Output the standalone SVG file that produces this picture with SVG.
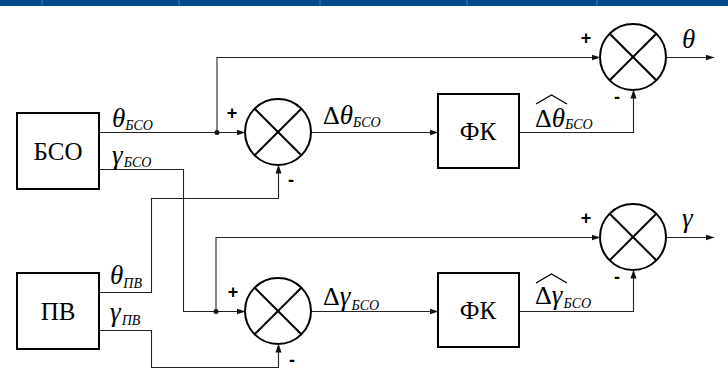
<svg xmlns="http://www.w3.org/2000/svg" width="728" height="389" viewBox="0 0 728 389">
<defs>
<marker id="arr" markerWidth="9" markerHeight="7" refX="8.5" refY="3.5" orient="auto" markerUnits="userSpaceOnUse">
<path d="M0,0.5 L9,3.5 L0,6.5 Z" fill="#111"/>
</marker>
<style>
.blk{fill:#fff;stroke:#000;stroke-width:2}
.sum circle{fill:#fff;stroke:#000;stroke-width:2}
.sum line{stroke:#000;stroke-width:2}
text{font-family:'Liberation Serif','Times New Roman','DejaVu Serif',serif;fill:#000}
.name{font-size:25px;text-anchor:middle}
.conn path{fill:none;stroke:#222;stroke-width:1.1}
.ar{marker-end:url(#arr)}
.g{font-style:italic;font-size:27px}
.d{font-style:normal;font-size:26px}
.s{font-style:italic;font-size:14px}
text.pm{font-family:'Liberation Sans','DejaVu Sans',sans-serif;font-weight:bold;font-size:18px;text-anchor:middle}
.hat{fill:none;stroke:#000;stroke-width:1.3}
</style>
</defs>
<rect x="0" y="0" width="728" height="6" fill="#004a8c"/>
<g stroke="#2f67a3" stroke-width="1.5">
<line x1="42" y1="0" x2="42" y2="6"/><line x1="179" y1="0" x2="179" y2="6"/><line x1="320" y1="0" x2="320" y2="6"/><line x1="467" y1="0" x2="467" y2="6"/><line x1="597" y1="0" x2="597" y2="6"/>
</g>
<g id="connectors" class="conn">
<path class="ar" d="M99,132.5 H245"/>
<path class="ar" d="M217,132.5 V57.5 H600"/>
<path class="ar" d="M99,169.5 H183.5 V311.5 H245"/>
<path class="ar" d="M216,311.5 V237.5 H600"/>
<path class="ar" d="M99,292.5 H151.5 V198.5 H278.5 V165"/>
<path class="ar" d="M99,330.5 H151.5 V367.5 H278.5 V344"/>
<path class="ar" d="M311,132.5 H438"/>
<path class="ar" d="M311,311.5 H438"/>
<path class="ar" d="M519,132.5 H633.5 V90"/>
<path class="ar" d="M519,311.5 H633.5 V270"/>
<path class="ar" d="M666,57.5 H714"/>
<path class="ar" d="M666,237.5 H714"/>
<circle cx="217" cy="132.5" r="2.5" fill="#111"/>
<circle cx="216" cy="311.5" r="2.5" fill="#111"/>
</g>
<g id="bso"><rect class="blk" x="17" y="113" width="82" height="76"/><text class="name" x="58" y="160">БСО</text></g>
<g id="pv"><rect class="blk" x="17" y="273" width="82" height="76"/><text class="name" x="58" y="320">ПВ</text></g>
<g id="fk1"><rect class="blk" x="438" y="94" width="81" height="74"/><text class="name" x="478" y="140">ФК</text></g>
<g id="fk2"><rect class="blk" x="438" y="273" width="81" height="74"/><text class="name" x="478" y="319">ФК</text></g>
<g id="sum1" class="sum"><circle cx="278" cy="132" r="33"/><line x1="254.7" y1="108.7" x2="301.3" y2="155.3"/><line x1="301.3" y1="108.7" x2="254.7" y2="155.3"/></g>
<g id="sum2" class="sum"><circle cx="278" cy="311" r="33"/><line x1="254.7" y1="287.7" x2="301.3" y2="334.3"/><line x1="301.3" y1="287.7" x2="254.7" y2="334.3"/></g>
<g id="sum3" class="sum"><circle cx="633" cy="57" r="33"/><line x1="609.7" y1="33.7" x2="656.3" y2="80.3"/><line x1="656.3" y1="33.7" x2="609.7" y2="80.3"/></g>
<g id="sum4" class="sum"><circle cx="633" cy="237" r="33"/><line x1="609.7" y1="213.7" x2="656.3" y2="260.3"/><line x1="656.3" y1="213.7" x2="609.7" y2="260.3"/></g>
<g id="signs">
<text class="pm" x="232" y="119">+</text><text class="pm" x="291" y="186">-</text>
<text class="pm" x="233" y="298">+</text><text class="pm" x="292" y="366">-</text>
<text class="pm" x="586" y="44">+</text><text class="pm" x="617" y="103">-</text>
<text class="pm" x="586" y="224">+</text><text class="pm" x="617" y="283">-</text>
</g>
<g id="labels">
<text x="112" y="127"><tspan class="g">θ</tspan><tspan class="s" dy="3">БСО</tspan></text>
<text x="112" y="164"><tspan class="g">γ</tspan><tspan class="s" dx="1" dy="3">БСО</tspan></text>
<text x="110" y="284"><tspan class="g">θ</tspan><tspan class="s" dy="4">ПВ</tspan></text>
<text x="110" y="321"><tspan class="g">γ</tspan><tspan class="s" dx="1" dy="4">ПВ</tspan></text>
<text x="323" y="124"><tspan class="d">Δ</tspan><tspan class="g">θ</tspan><tspan class="s" dy="3">БСО</tspan></text>
<text x="323" y="305"><tspan class="d">Δ</tspan><tspan class="g">γ</tspan><tspan class="s" dx="1" dy="5">БСО</tspan></text>
<text x="535" y="127"><tspan class="d">Δ</tspan><tspan class="g">θ</tspan><tspan class="s" dy="2">БСО</tspan></text>
<path class="hat" d="M536,104 L551.5,95 L567,104"/>
<text x="535" y="304"><tspan class="d">Δ</tspan><tspan class="g">γ</tspan><tspan class="s" dx="1" dy="4">БСО</tspan></text>
<path class="hat" d="M536,283 L551.5,274 L567,283"/>
<text class="g" x="682" y="48">θ</text>
<text class="g" x="682" y="227">γ</text>
</g>
</svg>
